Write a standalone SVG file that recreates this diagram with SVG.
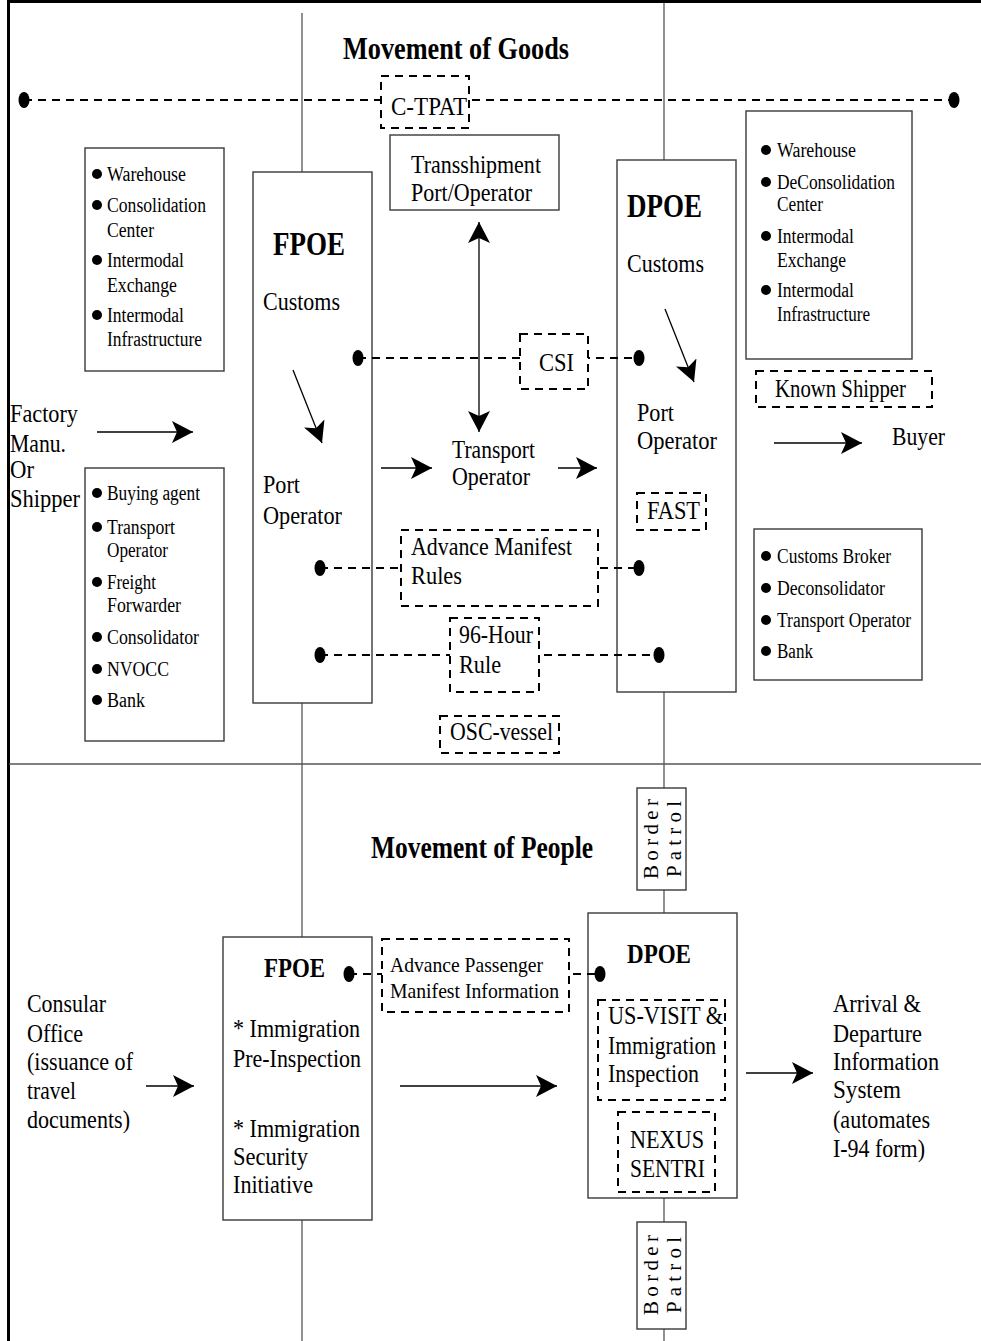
<svg xmlns="http://www.w3.org/2000/svg" width="981" height="1341" viewBox="0 0 981 1341">
<style>
text{font-family:"Liberation Serif","Times New Roman",serif;fill:#000}
.b{font-weight:bold}
.f20{font-size:20px}.f21{font-size:21px}.f25{font-size:25px}.f27{font-size:27px}.f32{font-size:32px}.f33{font-size:33px}
.box{fill:#fff;stroke:#3a3a3a;stroke-width:1.4}
.dbox{fill:#fff;stroke:#000;stroke-width:2;stroke-dasharray:8 6}
.dline{fill:none;stroke:#000;stroke-width:2;stroke-dasharray:8 6}
.axis{stroke:#555;stroke-width:1.3;fill:none}
.arr{stroke:#000;stroke-width:1.3;fill:none;marker-end:url(#ah)}
.dot{fill:#000}
</style>
<defs>
<marker id="ah" markerUnits="userSpaceOnUse" markerWidth="22" markerHeight="22" refX="21" refY="11" orient="auto-start-reverse" viewBox="0 0 22 22">
<path d="M0,0 L21,11 L0,22 L5,11 Z" fill="#000"/>
</marker>
</defs>
<rect width="981" height="1341" fill="#fff"/>

<g id="frame">
<line x1="9" y1="1.5" x2="981" y2="1.5" stroke="#000" stroke-width="3"/>
<line x1="8.5" y1="0" x2="8.5" y2="1341" stroke="#000" stroke-width="3"/>
<line x1="9" y1="764" x2="981" y2="764" class="axis"/>
<line x1="302" y1="13" x2="302" y2="1341" class="axis"/>
<line x1="664" y1="3" x2="664" y2="1341" class="axis"/>
</g>

<g id="titles">
<text class="b f32" x="343" y="59" textLength="226" lengthAdjust="spacingAndGlyphs">Movement of Goods</text>
<text class="b f32" x="371" y="858" textLength="222" lengthAdjust="spacingAndGlyphs">Movement of People</text>
</g>

<g id="node-factory">
<text class="f25" x="10" y="422" textLength="68" lengthAdjust="spacingAndGlyphs">Factory</text>
<text class="f25" x="10" y="452" textLength="56" lengthAdjust="spacingAndGlyphs">Manu.</text>
<text class="f25" x="10" y="478" textLength="24" lengthAdjust="spacingAndGlyphs">Or</text>
<text class="f25" x="10" y="507" textLength="70" lengthAdjust="spacingAndGlyphs">Shipper</text>
</g>

<g id="node-origin-facilities">
<rect class="box" x="85" y="148" width="139" height="223"/>
<circle class="dot" cx="97" cy="174" r="5"/>
<text class="f20" x="107" y="181" textLength="79" lengthAdjust="spacingAndGlyphs">Warehouse</text>
<circle class="dot" cx="97" cy="205" r="5"/>
<text class="f20" x="107" y="212" textLength="99" lengthAdjust="spacingAndGlyphs">Consolidation</text>
<text class="f20" x="107" y="237" textLength="47" lengthAdjust="spacingAndGlyphs">Center</text>
<circle class="dot" cx="97" cy="260" r="5"/>
<text class="f20" x="107" y="267" textLength="77" lengthAdjust="spacingAndGlyphs">Intermodal</text>
<text class="f20" x="107" y="292" textLength="70" lengthAdjust="spacingAndGlyphs">Exchange</text>
<circle class="dot" cx="97" cy="315" r="5"/>
<text class="f20" x="107" y="322" textLength="77" lengthAdjust="spacingAndGlyphs">Intermodal</text>
<text class="f20" x="107" y="346" textLength="95" lengthAdjust="spacingAndGlyphs">Infrastructure</text>
</g>

<g id="node-origin-parties">
<rect class="box" x="85" y="468" width="139" height="273"/>
<circle class="dot" cx="97" cy="493" r="5"/>
<text class="f20" x="107" y="500" textLength="93" lengthAdjust="spacingAndGlyphs">Buying agent</text>
<circle class="dot" cx="97" cy="527" r="5"/>
<text class="f20" x="107" y="534" textLength="68" lengthAdjust="spacingAndGlyphs">Transport</text>
<text class="f20" x="107" y="557" textLength="61" lengthAdjust="spacingAndGlyphs">Operator</text>
<circle class="dot" cx="97" cy="582" r="5"/>
<text class="f20" x="107" y="589" textLength="49" lengthAdjust="spacingAndGlyphs">Freight</text>
<text class="f20" x="107" y="612" textLength="74" lengthAdjust="spacingAndGlyphs">Forwarder</text>
<circle class="dot" cx="97" cy="637" r="5"/>
<text class="f20" x="107" y="644" textLength="92" lengthAdjust="spacingAndGlyphs">Consolidator</text>
<circle class="dot" cx="97" cy="669" r="5"/>
<text class="f20" x="107" y="676" textLength="62" lengthAdjust="spacingAndGlyphs">NVOCC</text>
<circle class="dot" cx="97" cy="700" r="5"/>
<text class="f20" x="107" y="707" textLength="38" lengthAdjust="spacingAndGlyphs">Bank</text>
</g>

<g id="node-fpoe-goods">
<rect class="box" x="253" y="172" width="119" height="531"/>
<text class="b f33" x="273" y="255" textLength="72" lengthAdjust="spacingAndGlyphs">FPOE</text>
<text class="f25" x="263" y="310" textLength="77" lengthAdjust="spacingAndGlyphs">Customs</text>
<text class="f25" x="263" y="493" textLength="37" lengthAdjust="spacingAndGlyphs">Port</text>
<text class="f25" x="263" y="524" textLength="79" lengthAdjust="spacingAndGlyphs">Operator</text>
</g>

<g id="node-transshipment">
<rect class="box" x="390" y="135" width="169" height="75"/>
<text class="f25" x="411" y="173" textLength="130" lengthAdjust="spacingAndGlyphs">Transshipment</text>
<text class="f25" x="411" y="201" textLength="121" lengthAdjust="spacingAndGlyphs">Port/Operator</text>
</g>

<g id="node-transport-operator">
<text class="f25" x="452" y="458" textLength="83" lengthAdjust="spacingAndGlyphs">Transport</text>
<text class="f25" x="452" y="485" textLength="78" lengthAdjust="spacingAndGlyphs">Operator</text>
</g>

<g id="node-dpoe-goods">
<rect class="box" x="617" y="160" width="119" height="532"/>
<text class="b f33" x="627" y="217" textLength="75" lengthAdjust="spacingAndGlyphs">DPOE</text>
<text class="f25" x="627" y="272" textLength="77" lengthAdjust="spacingAndGlyphs">Customs</text>
<text class="f25" x="637" y="421" textLength="37" lengthAdjust="spacingAndGlyphs">Port</text>
<text class="f25" x="637" y="449" textLength="80" lengthAdjust="spacingAndGlyphs">Operator</text>
</g>

<g id="node-dest-facilities">
<rect class="box" x="746" y="111" width="166" height="248"/>
<circle class="dot" cx="766" cy="150" r="5"/>
<text class="f20" x="777" y="157" textLength="79" lengthAdjust="spacingAndGlyphs">Warehouse</text>
<circle class="dot" cx="766" cy="182" r="5"/>
<text class="f20" x="777" y="189" textLength="118" lengthAdjust="spacingAndGlyphs">DeConsolidation</text>
<text class="f20" x="777" y="211" textLength="46" lengthAdjust="spacingAndGlyphs">Center</text>
<circle class="dot" cx="766" cy="236" r="5"/>
<text class="f20" x="777" y="243" textLength="77" lengthAdjust="spacingAndGlyphs">Intermodal</text>
<text class="f20" x="777" y="267" textLength="69" lengthAdjust="spacingAndGlyphs">Exchange</text>
<circle class="dot" cx="766" cy="290" r="5"/>
<text class="f20" x="777" y="297" textLength="77" lengthAdjust="spacingAndGlyphs">Intermodal</text>
<text class="f20" x="777" y="321" textLength="93" lengthAdjust="spacingAndGlyphs">Infrastructure</text>
</g>

<g id="node-buyer">
<text class="f25" x="892" y="445" textLength="53" lengthAdjust="spacingAndGlyphs">Buyer</text>
</g>

<g id="node-dest-parties">
<rect class="box" x="754" y="529" width="168" height="151"/>
<circle class="dot" cx="766" cy="556" r="5"/>
<text class="f20" x="777" y="563" textLength="114" lengthAdjust="spacingAndGlyphs">Customs Broker</text>
<circle class="dot" cx="766" cy="588" r="5"/>
<text class="f20" x="777" y="595" textLength="108" lengthAdjust="spacingAndGlyphs">Deconsolidator</text>
<circle class="dot" cx="766" cy="620" r="5"/>
<text class="f20" x="777" y="627" textLength="134" lengthAdjust="spacingAndGlyphs">Transport Operator</text>
<circle class="dot" cx="766" cy="651" r="5"/>
<text class="f20" x="777" y="658" textLength="36" lengthAdjust="spacingAndGlyphs">Bank</text>
</g>

<g id="node-border-patrol-1">
<rect class="box" x="637" y="788" width="49" height="102"/>
<text class="f21" transform="translate(658 839) rotate(-90)" x="0" y="0" text-anchor="middle" textLength="80" lengthAdjust="spacing">Border</text>
<text class="f21" transform="translate(681 839) rotate(-90)" x="0" y="0" text-anchor="middle" textLength="76" lengthAdjust="spacing">Patrol</text>
</g>

<g id="node-consular">
<text class="f25" x="27" y="1012" textLength="79" lengthAdjust="spacingAndGlyphs">Consular</text>
<text class="f25" x="27" y="1042" textLength="56" lengthAdjust="spacingAndGlyphs">Office</text>
<text class="f25" x="27" y="1070" textLength="106" lengthAdjust="spacingAndGlyphs">(issuance of</text>
<text class="f25" x="27" y="1099" textLength="49" lengthAdjust="spacingAndGlyphs">travel</text>
<text class="f25" x="27" y="1128" textLength="103" lengthAdjust="spacingAndGlyphs">documents)</text>
</g>

<g id="node-fpoe-people">
<rect class="box" x="223" y="937" width="149" height="283"/>
<text class="b f27" x="264" y="977" textLength="61" lengthAdjust="spacingAndGlyphs">FPOE</text>
<text class="f25" x="233" y="1037" textLength="127" lengthAdjust="spacingAndGlyphs">* Immigration</text>
<text class="f25" x="233" y="1067" textLength="128" lengthAdjust="spacingAndGlyphs">Pre-Inspection</text>
<text class="f25" x="233" y="1137" textLength="127" lengthAdjust="spacingAndGlyphs">* Immigration</text>
<text class="f25" x="233" y="1165" textLength="75" lengthAdjust="spacingAndGlyphs">Security</text>
<text class="f25" x="233" y="1193" textLength="80" lengthAdjust="spacingAndGlyphs">Initiative</text>
</g>

<g id="node-dpoe-people">
<rect class="box" x="588" y="913" width="149" height="285"/>
<text class="b f27" x="627" y="963" textLength="64" lengthAdjust="spacingAndGlyphs">DPOE</text>
</g>

<g id="node-border-patrol-2">
<rect class="box" x="637" y="1222" width="49" height="107"/>
<text class="f21" transform="translate(658 1275) rotate(-90)" x="0" y="0" text-anchor="middle" textLength="80" lengthAdjust="spacing">Border</text>
<text class="f21" transform="translate(681 1275) rotate(-90)" x="0" y="0" text-anchor="middle" textLength="76" lengthAdjust="spacing">Patrol</text>
</g>

<g id="node-arrival">
<text class="f25" x="833" y="1012" textLength="88" lengthAdjust="spacingAndGlyphs">Arrival &amp;</text>
<text class="f25" x="833" y="1042" textLength="89" lengthAdjust="spacingAndGlyphs">Departure</text>
<text class="f25" x="833" y="1070" textLength="106" lengthAdjust="spacingAndGlyphs">Information</text>
<text class="f25" x="833" y="1098" textLength="68" lengthAdjust="spacingAndGlyphs">System</text>
<text class="f25" x="833" y="1128" textLength="97" lengthAdjust="spacingAndGlyphs">(automates</text>
<text class="f25" x="833" y="1157" textLength="92" lengthAdjust="spacingAndGlyphs">I-94 form)</text>
</g>

<g id="connectors">
<line class="dline" x1="24" y1="100" x2="954" y2="100"/>
<line class="dline" x1="358" y1="358" x2="639" y2="358"/>
<line class="dline" x1="320" y1="568" x2="639" y2="568"/>
<line class="dline" x1="320" y1="655" x2="659" y2="655"/>
<line class="dline" x1="349" y1="974" x2="600" y2="974"/>
<line class="arr" x1="97" y1="432" x2="193" y2="432"/>
<line class="arr" x1="381" y1="468" x2="432" y2="468"/>
<line class="arr" x1="558" y1="468" x2="597" y2="468"/>
<line class="arr" x1="774" y1="443" x2="862" y2="443"/>
<line class="arr" x1="479" y1="222" x2="479" y2="432" marker-start="url(#ah)"/>
<line class="arr" x1="293" y1="370" x2="322" y2="443"/>
<line class="arr" x1="665" y1="309" x2="694" y2="382"/>
<line class="arr" x1="146" y1="1086" x2="194" y2="1086"/>
<line class="arr" x1="400" y1="1086" x2="557" y2="1086"/>
<line class="arr" x1="746" y1="1073" x2="813" y2="1073"/>
</g>

<g id="node-ctpat">
<rect class="dbox" x="381" y="76" width="88" height="52"/>
<text class="f25" x="391" y="115" textLength="76" lengthAdjust="spacingAndGlyphs">C-TPAT</text>
</g>
<g id="node-csi">
<rect class="dbox" x="520" y="334" width="68" height="55"/>
<text class="f25" x="539" y="371" textLength="35" lengthAdjust="spacingAndGlyphs">CSI</text>
</g>
<g id="node-known-shipper">
<rect class="dbox" x="756" y="371" width="176" height="36"/>
<text class="f25" x="775" y="397" textLength="131" lengthAdjust="spacingAndGlyphs">Known Shipper</text>
</g>
<g id="node-fast">
<rect class="dbox" x="637" y="493" width="69" height="37"/>
<text class="f25" x="647" y="519" textLength="53" lengthAdjust="spacingAndGlyphs">FAST</text>
</g>
<g id="node-amr">
<rect class="dbox" x="401" y="530" width="197" height="76"/>
<text class="f25" x="411" y="555" textLength="161" lengthAdjust="spacingAndGlyphs">Advance Manifest</text>
<text class="f25" x="411" y="584" textLength="51" lengthAdjust="spacingAndGlyphs">Rules</text>
</g>
<g id="node-96hour">
<rect class="dbox" x="450" y="618" width="89" height="74"/>
<text class="f25" x="459" y="643" textLength="74" lengthAdjust="spacingAndGlyphs">96-Hour</text>
<text class="f25" x="459" y="673" textLength="42" lengthAdjust="spacingAndGlyphs">Rule</text>
</g>
<g id="node-osc">
<rect class="dbox" x="440" y="716" width="119" height="37"/>
<text class="f25" x="450" y="740" textLength="103" lengthAdjust="spacingAndGlyphs">OSC-vessel</text>
</g>
<g id="node-apmi">
<rect class="dbox" x="382" y="939" width="187" height="73"/>
<text class="f21" x="390" y="972" textLength="153" lengthAdjust="spacingAndGlyphs">Advance Passenger</text>
<text class="f21" x="390" y="998" textLength="169" lengthAdjust="spacingAndGlyphs">Manifest Information</text>
</g>
<g id="node-usvisit">
<rect class="dbox" x="598" y="1000" width="127" height="100"/>
<text class="f25" x="608" y="1024" textLength="115" lengthAdjust="spacingAndGlyphs">US-VISIT &amp;</text>
<text class="f25" x="608" y="1054" textLength="108" lengthAdjust="spacingAndGlyphs">Immigration</text>
<text class="f25" x="608" y="1082" textLength="91" lengthAdjust="spacingAndGlyphs">Inspection</text>
</g>
<g id="node-nexus">
<rect class="dbox" x="618" y="1112" width="97" height="80"/>
<text class="f25" x="630" y="1148" textLength="74" lengthAdjust="spacingAndGlyphs">NEXUS</text>
<text class="f25" x="630" y="1177" textLength="75" lengthAdjust="spacingAndGlyphs">SENTRI</text>
</g>

<g id="dots">
<ellipse class="dot" cx="24" cy="100" rx="5.5" ry="8"/>
<ellipse class="dot" cx="954" cy="100" rx="5.5" ry="8"/>
<ellipse class="dot" cx="358" cy="358" rx="5.5" ry="8"/>
<ellipse class="dot" cx="639" cy="358" rx="5.5" ry="8"/>
<ellipse class="dot" cx="320" cy="568" rx="5.5" ry="8"/>
<ellipse class="dot" cx="639" cy="568" rx="5.5" ry="8"/>
<ellipse class="dot" cx="320" cy="655" rx="5.5" ry="8"/>
<ellipse class="dot" cx="659" cy="655" rx="5.5" ry="8"/>
<ellipse class="dot" cx="349" cy="974" rx="5.5" ry="8"/>
<ellipse class="dot" cx="600" cy="974" rx="5.5" ry="8"/>
</g>
</svg>
